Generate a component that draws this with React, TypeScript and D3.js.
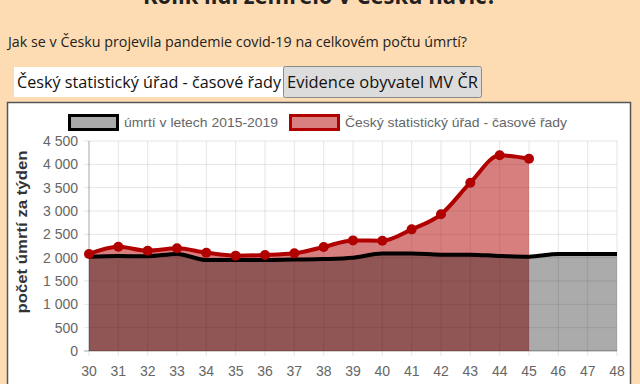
import React from "react";
import * as d3 from "d3";

const weeks = [30, 31, 32, 33, 34, 35, 36, 37, 38, 39, 40, 41, 42, 43, 44, 45, 46, 47, 48];
const avg2015_2019 = [2020, 2036, 2030, 2080, 1950, 1950, 1950, 1960, 1970, 2000, 2090, 2090, 2065, 2065, 2036, 2020, 2080, 2080, 2080];
const czsoWeeks = [30, 31, 32, 33, 34, 35, 36, 37, 38, 39, 40, 41, 42, 43, 44, 45];
const czsoValues = [2080, 2235, 2150, 2200, 2106, 2043, 2057, 2093, 2230, 2370, 2364, 2607, 2929, 3607, 4193, 4121];
const yTicks = [0, 500, 1000, 1500, 2000, 2500, 3000, 3500, 4000, 4500];
const legendLabels = ["úmrtí v letech 2015-2019", "Český statistický úřad - časové řady"];
const title = "Kolik lidí zemřelo v Česku navíc?";
const subtitle = "Jak se v Česku projevila pandemie covid-19 na celkovém počtu úmrtí?";
const buttons = ["Český statistický úřad - časové řady", "Evidence obyvatel MV ČR"];
const yTitle = "počet úmrtí za týden";

const fmt = (v: number) => (v >= 1000 ? `${Math.floor(v / 1000)} ${String(v % 1000).padStart(3, "0")}` : String(v));

export default function App() {
  const x = d3.scaleLinear().domain([30, 48]).range([89, 617]);
  const y = d3.scaleLinear().domain([0, 4500]).range([351, 141]);
  const avgPts: [number, number][] = weeks.map((w, i) => [w, avg2015_2019[i]]);
  const czPts: [number, number][] = czsoWeeks.map((w, i) => [w, czsoValues[i]]);
  const area = d3
    .area<[number, number]>()
    .x((d) => x(d[0]))
    .y0(y(0))
    .y1((d) => y(d[1]))
    .curve(d3.curveMonotoneX);
  const line = d3
    .line<[number, number]>()
    .x((d) => x(d[0]))
    .y((d) => y(d[1]))
    .curve(d3.curveMonotoneX);
  const font = "'Liberation Sans', Arial, sans-serif";
  const uiFont = "'Open Sans', 'Noto Sans', sans-serif";

  return (
    <svg width={640} height={384} style={{ position: "absolute", left: 0, top: 0 }}>
      <rect x={0} y={0} width={640} height={384} fill="#fedcb3" />
      <text x={320} y={4} textAnchor="middle" fontFamily={uiFont} fontWeight="bold" fontSize={24} fill="#222" textLength={354} lengthAdjust="spacingAndGlyphs">
        {title}
      </text>
      <text x={8} y={47} fontFamily={uiFont} fontSize={14} fill="#222" textLength={459} lengthAdjust="spacingAndGlyphs">
        {subtitle}
      </text>
      {/* buttons */}
      <rect x={14} y={67} width={269} height={30} fill="#fff" />
      <text x={17} y={88} fontFamily={uiFont} fontSize={17} fill="#111" textLength={264} lengthAdjust="spacingAndGlyphs">
        {buttons[0]}
      </text>
      <rect x={283.5} y={66.5} width={198} height={31} rx={2} fill="#dcdcdc" stroke="#8a8a8a" />
      <text x={287} y={88} fontFamily={uiFont} fontSize={17} fill="#111" textLength={191} lengthAdjust="spacingAndGlyphs">
        {buttons[1]}
      </text>
      {/* chart box */}
      <rect x={7.5} y={102.5} width={623} height={300} fill="#fff" stroke="#555" strokeWidth={1.5} />
      {/* legend */}
      <rect x={69.5} y={115.5} width={48} height={14} fill="#aaa" stroke="#000" strokeWidth={3} />
      <text x={124} y={127} fontFamily={font} fontSize={13} fill="#666" textLength={154} lengthAdjust="spacingAndGlyphs">
        {legendLabels[0]}
      </text>
      <rect x={290.5} y={115.5} width={48} height={14} fill="#d98080" stroke="#b00000" strokeWidth={3} />
      <text x={345} y={127} fontFamily={font} fontSize={13} fill="#666" textLength={222} lengthAdjust="spacingAndGlyphs">
        {legendLabels[1]}
      </text>
      {/* grid */}
      {yTicks.map((t) => (
        <g key={"y" + t}>
          <line x1={84} x2={617} y1={y(t)} y2={y(t)} stroke="rgba(0,0,0,0.1)" />
          <text x={78} y={y(t) + 5} textAnchor="end" fontFamily={font} fontSize={14} fill="#666">
            {fmt(t)}
          </text>
        </g>
      ))}
      {weeks.map((w) => (
        <g key={"x" + w}>
          <line x1={x(w)} x2={x(w)} y1={141} y2={356} stroke="rgba(0,0,0,0.1)" />
          <text x={x(w)} y={376} textAnchor="middle" fontFamily={font} fontSize={14} fill="#666">
            {w}
          </text>
        </g>
      ))}
      <line x1={89} x2={89} y1={141} y2={351} stroke="rgba(0,0,0,0.25)" />
      <line x1={84} x2={617} y1={351} y2={351} stroke="rgba(0,0,0,0.25)" />
      <text transform="translate(27,232) rotate(-90)" textAnchor="middle" fontFamily={font} fontWeight="bold" fontSize={14} fill="#333" textLength={163} lengthAdjust="spacingAndGlyphs">
        {yTitle}
      </text>
      {/* series */}
      <path d={area(czPts) || ""} fill="rgba(176,0,0,0.5)" />
      <path d={area(avgPts) || ""} fill="rgba(0,0,0,0.33)" />
      <path d={line(avgPts) || ""} fill="none" stroke="#000" strokeWidth={4} />
      <path d={line(czPts) || ""} fill="none" stroke="#b00000" strokeWidth={4} />
      {czPts.map((d) => (
        <circle key={"p" + d[0]} cx={x(d[0])} cy={y(d[1])} r={5} fill="#b00000" />
      ))}
    </svg>
  );
}
